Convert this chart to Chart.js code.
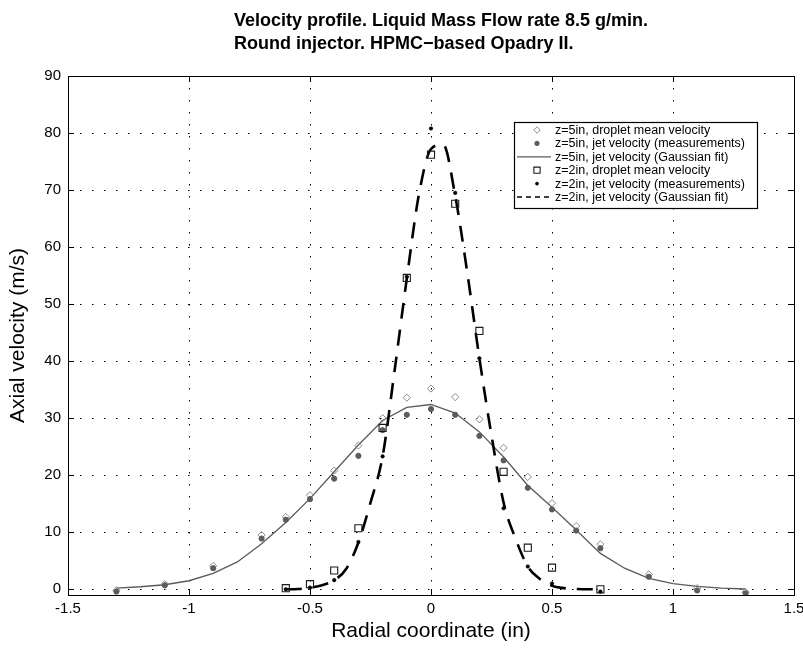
<!DOCTYPE html>
<html>
<head>
<meta charset="utf-8">
<title>Velocity profile</title>
<script src="https://cdn.jsdelivr.net/npm/chart.js@4.4.1/dist/chart.umd.min.js"></script>
<style>
  html, body { margin: 0; padding: 0; background: #fff; }
  #wrap { width: 803px; height: 650px; }
</style>
</head>
<body>
<div id="wrap"><canvas id="velChart" width="803" height="650"></canvas></div>
<script>
// z=5in measurement positions (in) and velocities (m/s)
const xZ5 = [-1.3, -1.1, -0.9, -0.7, -0.6, -0.5, -0.4, -0.3, -0.2, -0.1, 0, 0.1, 0.2, 0.3, 0.4, 0.5, 0.6, 0.7, 0.9, 1.1, 1.3];
const dropletZ5 = [-0.2, 0.9, 4.1, 9.5, 12.7, 16.5, 20.8, 25.2, 30.0, 33.6, 35.2, 33.7, 29.8, 24.8, 19.7, 15.1, 11.1, 7.9, 2.6, 0.2, -0.5];
const jetZ5 = [-0.4, 0.7, 3.7, 8.9, 12.2, 15.8, 19.4, 23.4, 27.9, 30.6, 31.6, 30.6, 26.9, 22.6, 17.8, 14.0, 10.3, 7.2, 2.2, -0.2, -0.7];

// z=5in Gaussian fit curve
const fitXZ5 = [-1.3, -1.2, -1.1, -1.0, -0.9, -0.8, -0.7, -0.6, -0.5, -0.4, -0.3, -0.2, -0.1, 0, 0.1, 0.2, 0.3, 0.4, 0.5, 0.6, 0.7, 0.8, 0.9, 1.0, 1.1, 1.2, 1.3];
const fitZ5 = [0.2, 0.45, 0.8, 1.5, 2.8, 4.8, 8.0, 11.7, 15.9, 20.6, 25.3, 29.6, 31.9, 32.4, 30.9, 27.6, 23.2, 18.2, 14.4, 10.4, 6.3, 3.7, 1.9, 1.0, 0.5, 0.2, 0.05];

// z=2in measurement positions and velocities
const xZ2 = [-0.6, -0.5, -0.4, -0.3, -0.2, -0.1, 0, 0.1, 0.2, 0.3, 0.4, 0.5, 0.7];
const dropletZ2 = [0.2, 0.9, 3.3, 10.7, 28.3, 54.6, 76.2, 67.6, 45.3, 20.6, 7.3, 3.8, 0.0];
const jetZ2 = [0.0, 0.3, 1.6, 8.3, 23.3, 54.8, 80.8, 69.5, 40.5, 14.2, 4.0, 1.0, -0.4];

// z=2in Gaussian fit curve
const fitXZ2 = [-0.6, -0.55, -0.5, -0.45, -0.4, -0.35, -0.3, -0.25, -0.2, -0.15, -0.1, -0.05, 0, 0.05, 0.1, 0.15, 0.2, 0.25, 0.3, 0.35, 0.4, 0.45, 0.5, 0.55, 0.6, 0.65, 0.7];
const fitZ2 = [0, 0.05, 0.3, 0.7, 1.6, 3.6, 8.2, 15.2, 23.3, 38.5, 54.5, 69.2, 77.2, 78.0, 69.0, 55.5, 40.5, 27.0, 15.2, 8.8, 4.0, 1.8, 0.6, 0.2, 0.05, 0, 0];

const xTicks = [-1.5, -1, -0.5, 0, 0.5, 1, 1.5];
const yTicks = [0, 10, 20, 30, 40, 50, 60, 70, 80, 90];

const titleLines = ['Velocity profile. Liquid Mass Flow rate 8.5 g/min.', 'Round injector. HPMC\u2212based Opadry II.'];

const FONT = "'Liberation Sans', Arial, Helvetica, sans-serif";

const pts = (xs, ys) => xs.map((x, i) => ({ x: x, y: ys[i] }));

// Title: two lines, left aligned as a block
const titlePlugin = {
    id: 'blockTitle',
    afterDraw(chart) {
        const ctx = chart.ctx;
        ctx.save();
        ctx.font = 'bold 18px ' + FONT;
        ctx.fillStyle = '#000';
        ctx.textAlign = 'left';
        ctx.textBaseline = 'middle';
        titleLines.forEach((line, i) => ctx.fillText(line, 234, 21 + i * 23));
        ctx.restore();
    }
};

// Box around the axes plus inward ticks on all sides
const framePlugin = {
    id: 'frame',
    afterDatasetsDraw(chart) {
        const { ctx, chartArea: a, scales } = chart;
        ctx.save();
        ctx.strokeStyle = '#000';
        ctx.lineWidth = 1;
        ctx.setLineDash([]);
        ctx.beginPath();
        xTicks.forEach(v => {
            const px = Math.round(scales.x.getPixelForValue(v)) + 0.5;
            ctx.moveTo(px, a.bottom); ctx.lineTo(px, a.bottom - 6);
            ctx.moveTo(px, a.top); ctx.lineTo(px, a.top + 6);
        });
        yTicks.forEach(v => {
            const py = Math.round(scales.y.getPixelForValue(v)) + 0.5;
            ctx.moveTo(a.left, py); ctx.lineTo(a.left + 6, py);
            ctx.moveTo(a.right, py); ctx.lineTo(a.right - 6, py);
        });
        ctx.stroke();
        ctx.strokeRect(Math.round(a.left) + 0.5, Math.round(a.top) + 0.5,
            Math.round(a.right - a.left), Math.round(a.bottom - a.top));
        ctx.restore();
    }
};

// Legend box inside the axes, upper right
const legendPlugin = {
    id: 'boxLegend',
    afterDraw(chart) {
        const ctx = chart.ctx;
        const left = 514, top = 122, width = 243, height = 86, rowH = 13.4;
        ctx.save();
        ctx.fillStyle = '#fff';
        ctx.fillRect(left, top, width, height);
        ctx.strokeStyle = '#000';
        ctx.lineWidth = 1.2;
        ctx.strokeRect(left + 0.5, top + 0.5, width, height);
        ctx.font = '12.5px ' + FONT;
        ctx.textBaseline = 'middle';
        ctx.textAlign = 'left';
        chart.data.datasets.forEach((ds, i) => {
            const y = top + 8 + i * rowH;
            if (ds.showLine) {
                ctx.beginPath();
                ctx.strokeStyle = ds.borderColor;
                ctx.lineWidth = ds.legendLineWidth;
                ctx.setLineDash(ds.legendDash || []);
                ctx.moveTo(517, y);
                ctx.lineTo(551, y);
                ctx.stroke();
                ctx.setLineDash([]);
            } else {
                ctx.fillStyle = ds.pointBackgroundColor;
                ctx.strokeStyle = ds.pointBorderColor;
                ctx.lineWidth = ds.pointBorderWidth;
                Chart.helpers.drawPoint(ctx, {
                    pointStyle: ds.pointStyle,
                    radius: ds.legendRadius,
                    rotation: 0,
                    borderWidth: ds.pointBorderWidth
                }, 537, y);
            }
            ctx.fillStyle = '#000';
            ctx.fillText(ds.label, 555, y + 0.5);
        });
        ctx.restore();
    }
};

const ctx = document.getElementById('velChart').getContext('2d');

new Chart(ctx, {
    type: 'scatter',
    data: {
        datasets: [{
            label: 'z=5in, droplet mean velocity',
            data: pts(xZ5, dropletZ5),
            pointStyle: 'rectRot',
            pointRadius: 3.6,
            pointBorderWidth: 1,
            pointBorderColor: '#8a8a8a',
            pointBackgroundColor: 'rgba(255,255,255,0)',
            legendRadius: 3.2,
            order: 5
        }, {
            label: 'z=5in, jet velocity (measurements)',
            data: pts(xZ5, jetZ5),
            pointStyle: 'circle',
            pointRadius: 2.6,
            pointBorderWidth: 1,
            pointBorderColor: '#5c5c5c',
            pointBackgroundColor: '#5c5c5c',
            legendRadius: 2.2,
            order: 4
        }, {
            label: 'z=5in, jet velocity (Gaussian fit)',
            data: pts(fitXZ5, fitZ5),
            showLine: true,
            borderColor: '#5a5a5a',
            borderWidth: 1.3,
            pointRadius: 0,
            tension: 0,
            legendLineWidth: 1.3,
            order: 6
        }, {
            label: 'z=2in, droplet mean velocity',
            data: pts(xZ2, dropletZ2),
            pointStyle: 'rect',
            pointRadius: 5,
            pointBorderWidth: 1.1,
            pointBorderColor: '#1a1a1a',
            pointBackgroundColor: 'rgba(255,255,255,0)',
            legendRadius: 4.4,
            order: 2
        }, {
            label: 'z=2in, jet velocity (measurements)',
            data: pts(xZ2, jetZ2),
            pointStyle: 'circle',
            pointRadius: 1.8,
            pointBorderWidth: 0.5,
            pointBorderColor: '#000',
            pointBackgroundColor: '#000',
            legendRadius: 1.6,
            order: 1
        }, {
            label: 'z=2in, jet velocity (Gaussian fit)',
            data: pts(fitXZ2, fitZ2),
            showLine: true,
            borderColor: '#000',
            borderWidth: 2.6,
            borderDash: [16, 11],
            cubicInterpolationMode: 'monotone',
            pointRadius: 0,
            legendLineWidth: 1.6,
            legendDash: [5, 4],
            order: 3
        }]
    },
    options: {
        responsive: false,
        animation: false,
        devicePixelRatio: 1,
        layout: { padding: { top: 76, right: 9, left: 0, bottom: 0 } },
        plugins: {
            legend: { display: false },
            title: { display: false },
            tooltip: { enabled: false }
        },
        scales: {
            x: {
                type: 'linear',
                min: -1.5,
                max: 1.5,
                afterBuildTicks: (scale) => { scale.ticks = xTicks.map(v => ({ value: v })); },
                afterFit: (scale) => { scale.height = 55; scale.paddingLeft = 0; scale.paddingRight = 0; },
                ticks: {
                    color: '#000',
                    padding: 5,
                    maxRotation: 0,
                    font: { family: FONT, size: 15 },
                    callback: (v) => String(v)
                },
                grid: { color: '#000', lineWidth: 1, drawTicks: false },
                border: { display: false, dash: [1.5, 10.5] },
                title: {
                    display: true,
                    text: 'Radial coordinate (in)',
                    color: '#000',
                    font: { family: FONT, size: 21 },
                    padding: { top: 0, bottom: 6 }
                }
            },
            y: {
                type: 'linear',
                min: -1,
                max: 90,
                afterBuildTicks: (scale) => { scale.ticks = yTicks.map(v => ({ value: v })); },
                afterFit: (scale) => { scale.width = 68; },
                ticks: {
                    color: '#000',
                    padding: 7,
                    font: { family: FONT, size: 15 },
                    callback: (v) => String(v)
                },
                grid: { color: '#000', lineWidth: 1, drawTicks: false },
                border: { display: false, dash: [1.5, 10.5] },
                title: {
                    display: true,
                    text: 'Axial velocity (m/s)',
                    color: '#000',
                    font: { family: FONT, size: 21 },
                    padding: { top: 6, bottom: 0 }
                }
            }
        }
    },
    plugins: [titlePlugin, framePlugin, legendPlugin]
});
</script>
</body>
</html>
